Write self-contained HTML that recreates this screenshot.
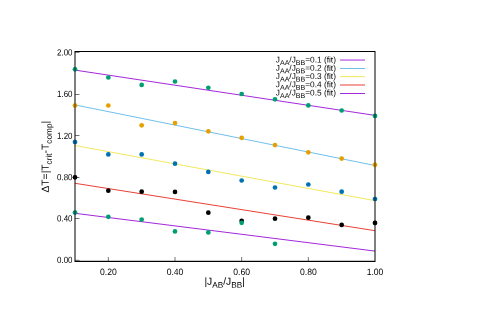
<!DOCTYPE html>
<html><head><meta charset="utf-8"><title>plot</title>
<style>
html,body{margin:0;padding:0;background:#fff;}
body{width:500px;height:314px;overflow:hidden;}
svg{display:block;will-change:transform;}
text{font-family:"Liberation Sans",sans-serif;fill:#000;text-rendering:geometricPrecision;font-variant-ligatures:none;font-feature-settings:"liga" 0;font-kerning:none;}
</style></head><body>
<svg width="500" height="314" viewBox="0 0 500 314">
<rect width="500" height="314" fill="#fff"/>
<line x1="75.0" y1="70.1" x2="375.0" y2="115.4" stroke="#9400D3" stroke-width="0.85"/>
<circle cx="75.00" cy="69.3" r="2.35" fill="#009E73"/>
<circle cx="108.33" cy="77.5" r="2.35" fill="#009E73"/>
<circle cx="141.67" cy="84.9" r="2.35" fill="#009E73"/>
<circle cx="175.00" cy="81.5" r="2.35" fill="#009E73"/>
<circle cx="208.33" cy="87.75" r="2.35" fill="#009E73"/>
<circle cx="241.67" cy="94.0" r="2.35" fill="#009E73"/>
<circle cx="275.00" cy="99.3" r="2.35" fill="#009E73"/>
<circle cx="308.33" cy="105.4" r="2.35" fill="#009E73"/>
<circle cx="341.67" cy="110.5" r="2.35" fill="#009E73"/>
<circle cx="375.00" cy="115.9" r="2.35" fill="#009E73"/>
<line x1="75.0" y1="104.9" x2="375.0" y2="165.5" stroke="#56B4E9" stroke-width="0.85"/>
<circle cx="75.00" cy="105.5" r="2.35" fill="#E69F00"/>
<circle cx="108.33" cy="105.5" r="2.35" fill="#E69F00"/>
<circle cx="141.67" cy="125.3" r="2.35" fill="#E69F00"/>
<circle cx="175.00" cy="123.1" r="2.35" fill="#E69F00"/>
<circle cx="208.33" cy="131.3" r="2.35" fill="#E69F00"/>
<circle cx="241.67" cy="137.8" r="2.35" fill="#E69F00"/>
<circle cx="275.00" cy="145.1" r="2.35" fill="#E69F00"/>
<circle cx="308.33" cy="152.3" r="2.35" fill="#E69F00"/>
<circle cx="341.67" cy="158.6" r="2.35" fill="#E69F00"/>
<circle cx="375.00" cy="164.8" r="2.35" fill="#E69F00"/>
<line x1="75.0" y1="145.5" x2="375.0" y2="200.7" stroke="#F0E442" stroke-width="0.85"/>
<circle cx="75.00" cy="142.0" r="2.35" fill="#0072B2"/>
<circle cx="108.33" cy="154.4" r="2.35" fill="#0072B2"/>
<circle cx="141.67" cy="154.4" r="2.35" fill="#0072B2"/>
<circle cx="175.00" cy="163.7" r="2.35" fill="#0072B2"/>
<circle cx="208.33" cy="171.9" r="2.35" fill="#0072B2"/>
<circle cx="241.67" cy="180.5" r="2.35" fill="#0072B2"/>
<circle cx="275.00" cy="187.5" r="2.35" fill="#0072B2"/>
<circle cx="308.33" cy="184.5" r="2.35" fill="#0072B2"/>
<circle cx="341.67" cy="191.7" r="2.35" fill="#0072B2"/>
<circle cx="375.00" cy="199.0" r="2.35" fill="#0072B2"/>
<line x1="75.0" y1="183.3" x2="375.0" y2="230.7" stroke="#E51E10" stroke-width="0.85"/>
<circle cx="75.00" cy="177.3" r="2.35" fill="#000000"/>
<circle cx="108.33" cy="190.7" r="2.35" fill="#000000"/>
<circle cx="141.67" cy="191.7" r="2.35" fill="#000000"/>
<circle cx="175.00" cy="191.9" r="2.35" fill="#000000"/>
<circle cx="208.33" cy="212.7" r="2.35" fill="#000000"/>
<circle cx="241.67" cy="220.8" r="2.35" fill="#000000"/>
<circle cx="275.00" cy="218.7" r="2.35" fill="#000000"/>
<circle cx="308.33" cy="217.7" r="2.35" fill="#000000"/>
<circle cx="341.67" cy="224.9" r="2.35" fill="#000000"/>
<circle cx="375.00" cy="222.9" r="2.35" fill="#000000"/>
<line x1="75.0" y1="213.3" x2="375.0" y2="251.1" stroke="#9400D3" stroke-width="0.85"/>
<circle cx="75.00" cy="212.6" r="2.35" fill="#009E73"/>
<circle cx="108.33" cy="216.8" r="2.35" fill="#009E73"/>
<circle cx="141.67" cy="219.6" r="2.35" fill="#009E73"/>
<circle cx="175.00" cy="231.4" r="2.35" fill="#009E73"/>
<circle cx="208.33" cy="232.4" r="2.35" fill="#009E73"/>
<circle cx="241.67" cy="222.8" r="2.35" fill="#009E73"/>
<circle cx="275.00" cy="243.8" r="2.35" fill="#009E73"/>
<text transform="translate(335.9,62.60) rotate(0.1)" font-size="8.3" text-anchor="end">J<tspan font-size="7.06" dy="2.49">AA</tspan><tspan dy="-2.49">/J</tspan><tspan font-size="7.06" dy="2.49">BB</tspan><tspan dy="-2.49">=0.1 (fit)</tspan></text>
<line x1="340.1" y1="60.05" x2="365" y2="60.05" stroke="#9400D3" stroke-width="0.85"/>
<text transform="translate(335.9,70.90) rotate(0.1)" font-size="8.3" text-anchor="end">J<tspan font-size="7.06" dy="2.49">AA</tspan><tspan dy="-2.49">/J</tspan><tspan font-size="7.06" dy="2.49">BB</tspan><tspan dy="-2.49">=0.2 (fit)</tspan></text>
<line x1="340.1" y1="68.5" x2="365" y2="68.5" stroke="#56B4E9" stroke-width="0.85"/>
<text transform="translate(335.9,79.10) rotate(0.1)" font-size="8.3" text-anchor="end">J<tspan font-size="7.06" dy="2.49">AA</tspan><tspan dy="-2.49">/J</tspan><tspan font-size="7.06" dy="2.49">BB</tspan><tspan dy="-2.49">=0.3 (fit)</tspan></text>
<line x1="340.1" y1="76.65" x2="365" y2="76.65" stroke="#F0E442" stroke-width="0.85"/>
<text transform="translate(335.9,87.30) rotate(0.1)" font-size="8.3" text-anchor="end">J<tspan font-size="7.06" dy="2.49">AA</tspan><tspan dy="-2.49">/J</tspan><tspan font-size="7.06" dy="2.49">BB</tspan><tspan dy="-2.49">=0.4 (fit)</tspan></text>
<line x1="340.1" y1="85.0" x2="365" y2="85.0" stroke="#E51E10" stroke-width="0.85"/>
<text transform="translate(335.9,95.60) rotate(0.1)" font-size="8.3" text-anchor="end">J<tspan font-size="7.06" dy="2.49">AA</tspan><tspan dy="-2.49">/J</tspan><tspan font-size="7.06" dy="2.49">BB</tspan><tspan dy="-2.49">=0.5 (fit)</tspan></text>
<line x1="340.1" y1="93.5" x2="365" y2="93.5" stroke="#9400D3" stroke-width="0.85"/>
<line x1="75.0" y1="260.3" x2="79.5" y2="260.3" stroke="#000" stroke-width="0.55"/>
<text transform="translate(72.5,263.10) scale(0.97,1.10) rotate(0.1)" font-size="8.2" text-anchor="end">0.00</text>
<line x1="75.0" y1="218.5" x2="79.5" y2="218.5" stroke="#000" stroke-width="0.55"/>
<text transform="translate(72.5,221.50) scale(0.97,1.10) rotate(0.1)" font-size="8.2" text-anchor="end">0.40</text>
<line x1="75.0" y1="177.5" x2="79.5" y2="177.5" stroke="#000" stroke-width="0.55"/>
<text transform="translate(72.5,180.30) scale(0.97,1.10) rotate(0.1)" font-size="8.2" text-anchor="end">0.80</text>
<line x1="75.0" y1="135.5" x2="79.5" y2="135.5" stroke="#000" stroke-width="0.55"/>
<text transform="translate(72.5,138.90) scale(0.97,1.10) rotate(0.1)" font-size="8.2" text-anchor="end">1.20</text>
<line x1="75.0" y1="94.5" x2="79.5" y2="94.5" stroke="#000" stroke-width="0.55"/>
<text transform="translate(72.5,97.00) scale(0.97,1.10) rotate(0.1)" font-size="8.2" text-anchor="end">1.60</text>
<line x1="75.0" y1="52.4" x2="79.5" y2="52.4" stroke="#000" stroke-width="0.55"/>
<text transform="translate(72.5,55.60) scale(0.97,1.10) rotate(0.1)" font-size="8.2" text-anchor="end">2.00</text>
<line x1="108.33" y1="261.5" x2="108.33" y2="257.0" stroke="#000" stroke-width="0.55"/>
<text transform="translate(108.33,274.9) scale(1.05,1.13) rotate(0.1)" font-size="8.2" text-anchor="middle">0.20</text>
<line x1="175.00" y1="261.5" x2="175.00" y2="257.0" stroke="#000" stroke-width="0.55"/>
<text transform="translate(175.00,274.9) scale(1.05,1.13) rotate(0.1)" font-size="8.2" text-anchor="middle">0.40</text>
<line x1="241.67" y1="261.5" x2="241.67" y2="257.0" stroke="#000" stroke-width="0.55"/>
<text transform="translate(241.67,274.9) scale(1.05,1.13) rotate(0.1)" font-size="8.2" text-anchor="middle">0.60</text>
<line x1="308.33" y1="261.5" x2="308.33" y2="257.0" stroke="#000" stroke-width="0.55"/>
<text transform="translate(308.33,274.9) scale(1.05,1.13) rotate(0.1)" font-size="8.2" text-anchor="middle">0.80</text>
<text transform="translate(375.00,274.9) scale(1.05,1.13) rotate(0.1)" font-size="8.2" text-anchor="middle">1.00</text>
<rect x="75.0" y="51.5" width="300.0" height="210.0" fill="none" stroke="#000" stroke-width="1"/>
<line x1="75.0" y1="260.5" x2="375.0" y2="260.5" stroke="#000" stroke-opacity="0.22" stroke-width="1"/>
<circle cx="75.00" cy="69.3" r="2.35" fill="#009E73" fill-opacity="0.3"/>
<circle cx="375.00" cy="115.9" r="2.35" fill="#009E73" fill-opacity="0.3"/>
<circle cx="75.00" cy="105.5" r="2.35" fill="#E69F00" fill-opacity="0.3"/>
<circle cx="375.00" cy="164.8" r="2.35" fill="#E69F00" fill-opacity="0.3"/>
<circle cx="75.00" cy="142.0" r="2.35" fill="#0072B2" fill-opacity="0.3"/>
<circle cx="375.00" cy="199.0" r="2.35" fill="#0072B2" fill-opacity="0.3"/>
<circle cx="75.00" cy="177.3" r="2.35" fill="#000000" fill-opacity="0.3"/>
<circle cx="375.00" cy="222.9" r="2.35" fill="#000000" fill-opacity="0.3"/>
<circle cx="75.00" cy="212.6" r="2.35" fill="#009E73" fill-opacity="0.3"/>
<text transform="translate(224.7,284.7) rotate(0.1)" font-size="10.3" text-anchor="middle">|J<tspan font-size="8.24" dy="3">AB</tspan><tspan dy="-3">/J</tspan><tspan font-size="8.24" dy="3">BB</tspan><tspan dy="-3">|</tspan></text>
<text transform="translate(48.8,156.7) rotate(-90.1)" font-size="10.3" text-anchor="middle">ΔT=|T<tspan font-size="8.24" dy="3">crit</tspan><tspan dy="-3">-T</tspan><tspan font-size="8.24" dy="3">comp</tspan><tspan dy="-3">|</tspan></text>
</svg>
</body></html>
